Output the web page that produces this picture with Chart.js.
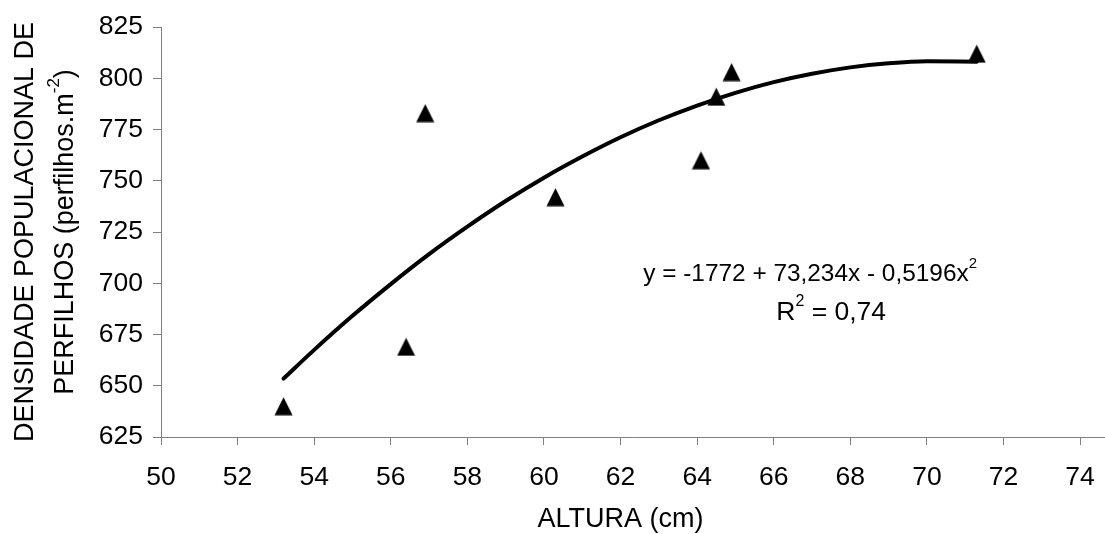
<!DOCTYPE html>
<html>
<head>
<meta charset="utf-8">
<script src="https://cdn.jsdelivr.net/npm/chart.js@4/dist/chart.umd.min.js"></script>
<style>
  html, body { margin: 0; padding: 0; background: #fff; }
</style>
</head>
<body>
<canvas id="chart" width="1105" height="534"></canvas>
<script>
const alturaCm = [53.2, 56.4, 56.9, 60.3, 64.1, 64.5, 64.9, 71.3];
const densidade = [640, 669, 783, 742, 760, 791, 803, 812];

// Trendline
const curveX = [53.2, 54, 55, 56, 57, 58, 59, 60, 61, 62, 63, 64, 65, 66, 67, 68, 69, 70, 71.3];
const curveY = [653.5, 667.5, 684.1, 699.6, 714.2, 727.6, 740.1, 751.5, 761.8, 771.2, 779.5, 786.7, 792.9, 798.1, 802.2, 805.3, 807.3, 808.3, 808.1];

const xTickValues = [50, 52, 54, 56, 58, 60, 62, 64, 66, 68, 70, 72, 74];
const yTickValues = [625, 650, 675, 700, 725, 750, 775, 800, 825];

const xTitle = 'ALTURA (cm)';
const yTitleLine1 = 'DENSIDADE POPULACIONAL DE';
const yTitleLine2 = ['PERFILHOS (perfilhos.m', '-2', ')'];
const equationText = ['y = -1772 + 73,234x - 0,5196x', '2'];
const r2Text = ['R', '2', ' = 0,74'];

const FONT = '"Liberation Sans", Arial, Helvetica, sans-serif';
const axisGray = '#808080';

// Excel-like filled triangle marker
function makeTriangle(size) {
    const c = document.createElement('canvas');
    c.width = size;
    c.height = size;
    const g = c.getContext('2d');
    g.fillStyle = '#000';
    g.beginPath();
    g.moveTo(size / 2, 0.5);
    g.lineTo(size - 0.5, size - 0.5);
    g.lineTo(0.5, size - 0.5);
    g.closePath();
    g.fill();
    return c;
}

// draws a line of text where some parts are superscripts
function drawRich(ctx, parts, x, y, size) {
    const supSize = Math.round(size * 0.62);
    let total = 0;
    parts.forEach(p => {
        ctx.font = (p.sup ? supSize : size) + 'px ' + FONT;
        total += ctx.measureText(p.t).width;
    });
    let cx = x - total / 2;
    ctx.textAlign = 'left';
    ctx.textBaseline = 'middle';
    parts.forEach(p => {
        ctx.font = (p.sup ? supSize : size) + 'px ' + FONT;
        ctx.fillText(p.t, cx, p.sup ? y - size * 0.42 : y);
        cx += ctx.measureText(p.t).width;
    });
}

const textPlugin = {
    id: 'texts',
    afterDraw: (chart) => {
        const { ctx, chartArea } = chart;
        const xs = chart.scales.x;
        const ys = chart.scales.y;
        ctx.save();
        ctx.fillStyle = '#000';

        // x axis title
        drawRich(ctx, [{ t: xTitle }], xs.getPixelForValue(62), 520, 27);

        // y axis title, two rotated lines
        const midY = (chartArea.top + chartArea.bottom) / 2;
        ctx.save();
        ctx.translate(26, midY);
        ctx.rotate(-Math.PI / 2);
        drawRich(ctx, [{ t: yTitleLine1 }], 0, 0, 27);
        ctx.restore();
        ctx.save();
        ctx.translate(66, midY);
        ctx.rotate(-Math.PI / 2);
        drawRich(ctx, [
            { t: yTitleLine2[0] }, { t: yTitleLine2[1], sup: true }, { t: yTitleLine2[2] }
        ], 0, 0, 27);
        ctx.restore();

        // regression equation
        drawRich(ctx, [{ t: equationText[0] }, { t: equationText[1], sup: true }],
            xs.getPixelForValue(66.95), ys.getPixelForValue(704.4), 24.4);
        drawRich(ctx, [{ t: r2Text[0] }, { t: r2Text[1], sup: true }, { t: r2Text[2] }],
            xs.getPixelForValue(67.5), ys.getPixelForValue(685.5), 26.5);

        ctx.restore();
    }
};

const ctx = document.getElementById('chart').getContext('2d');
new Chart(ctx, {
    type: 'scatter',
    plugins: [textPlugin],
    data: {
        datasets: [{
            label: 'Densidade',
            data: alturaCm.map((x, i) => ({ x: x, y: densidade[i] })),
            pointStyle: makeTriangle(19),
            pointRadius: 10,
            order: 2
        }, {
            label: 'Tendência',
            type: 'line',
            data: curveX.map((x, i) => ({ x: x, y: curveY[i] })),
            borderColor: '#000',
            borderWidth: 4,
            pointRadius: 0,
            fill: false,
            cubicInterpolationMode: 'monotone',
            borderCapStyle: 'round',
            order: 1
        }]
    },
    options: {
        responsive: false,
        animation: false,
        devicePixelRatio: 1,
        layout: { autoPadding: false, padding: { top: 27, right: 0, left: 0, bottom: 0 } },
        plugins: {
            legend: { display: false },
            tooltip: { enabled: false }
        },
        scales: {
            x: {
                type: 'linear',
                min: 50,
                max: 74.65,
                afterBuildTicks: (axis) => { axis.ticks = xTickValues.map(v => ({ value: v })); },
                afterFit: (axis) => {
                    axis.height = 97;
                    axis.paddingLeft = 0;
                    axis.paddingRight = 0;
                },
                grid: { drawOnChartArea: false, drawTicks: true, tickLength: 8, color: axisGray },
                border: { color: axisGray, width: 1 },
                ticks: { color: '#000', font: { family: FONT, size: 26.5 }, padding: 17, maxRotation: 0 }
            },
            y: {
                min: 625,
                max: 825,
                afterBuildTicks: (axis) => { axis.ticks = yTickValues.map(v => ({ value: v })); },
                afterFit: (axis) => { axis.width = 161; },
                grid: { drawOnChartArea: false, drawTicks: true, tickLength: 8, color: axisGray },
                border: { color: axisGray, width: 1 },
                ticks: { color: '#000', font: { family: FONT, size: 26.5 }, padding: 10 }
            }
        }
    }
});
</script>
</body>
</html>
